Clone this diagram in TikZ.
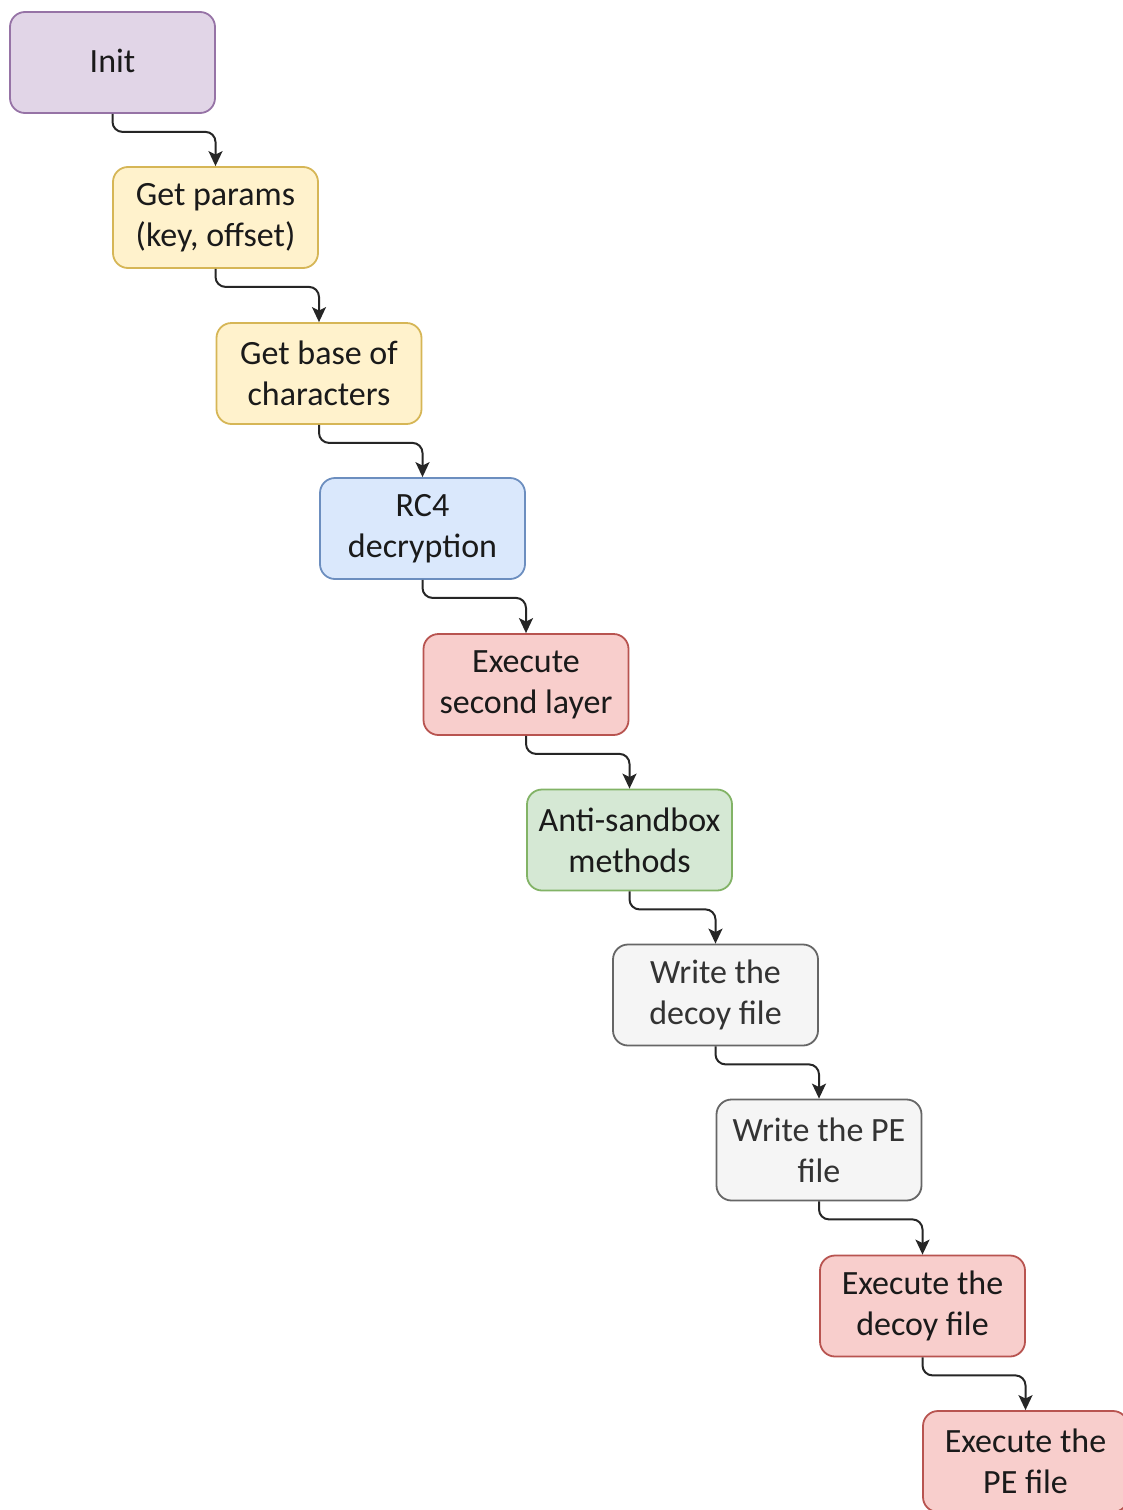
\documentclass[tikz,border=0pt]{standalone}
\usepackage{fontspec}
\setmainfont{Carlito}
\usetikzlibrary{arrows.meta}
\definecolor{purpF}{HTML}{E1D5E7}\definecolor{purpS}{HTML}{9673A6}
\definecolor{yelF}{HTML}{FFF2CC}\definecolor{yelS}{HTML}{D6B656}
\definecolor{bluF}{HTML}{DAE8FC}\definecolor{bluS}{HTML}{6C8EBF}
\definecolor{redF}{HTML}{F8CECC}\definecolor{redS}{HTML}{B85450}
\definecolor{grnF}{HTML}{D5E8D4}\definecolor{grnS}{HTML}{82B366}
\definecolor{gryF}{HTML}{F5F5F5}\definecolor{gryS}{HTML}{666666}
\definecolor{gryT}{HTML}{333333}
\definecolor{txtK}{HTML}{1A1A1A}
\begin{document}
\begin{tikzpicture}[x=1pt,y=-1pt,
  box/.style={draw, line width=1.8pt, rounded corners=15pt, minimum width=205pt,
    minimum height=101pt, inner sep=0pt, align=center, text=txtK,
    font=\fontsize{34}{41}\selectfont},
  purplebox/.style={box, fill=purpF, draw=purpS},
  yellowbox/.style={box, fill=yelF, draw=yelS},
  bluebox/.style={box, fill=bluF, draw=bluS},
  redbox/.style={box, fill=redF, draw=redS},
  greenbox/.style={box, fill=grnF, draw=grnS},
  graybox/.style={box, fill=gryF, draw=gryS, text=gryT},
  conn/.style={draw=black!85, line width=2pt, rounded corners=10pt,
    -{Stealth[length=15pt,width=14pt,inset=3.5pt]}}]
\useasboundingbox (0,0) rectangle (1123,1510);
\clip (0,0) rectangle (1123,1510);
\fill[white] (0,0) rectangle (1123,1510);
\node[purplebox] (n1) at (112.5,62.5) {\raisebox{3pt}{Init}};
\node[yellowbox] (n2) at (215.5,217.5) {Get params\\(key, offset)};
\node[yellowbox] (n3) at (319,373.5) {Get base of\\characters};
\node[bluebox] (n4) at (422.5,528.5) {RC4\\decryption};
\node[redbox] (n5) at (526,684.5) {Execute\\second layer};
\node[greenbox] (n6) at (629.5,840) {Anti-sandbox\\methods};
\node[graybox] (n7) at (715.5,995) {Write the\\decoy file};
\node[graybox] (n8) at (819,1150) {Write the PE\\file};
\node[redbox] (n9) at (922.5,1306) {Execute the\\decoy file};
\node[redbox] (n10) at (1025.5,1461.5) {Execute the\\PE file};
\foreach \a/\b in {n1/n2,n2/n3,n3/n4,n4/n5,n5/n6,n6/n7,n7/n8,n8/n9,n9/n10}{
  \draw[conn] (\a.south) -- ++(0,18) -| (\b.north);
}
\end{tikzpicture}
\end{document}
